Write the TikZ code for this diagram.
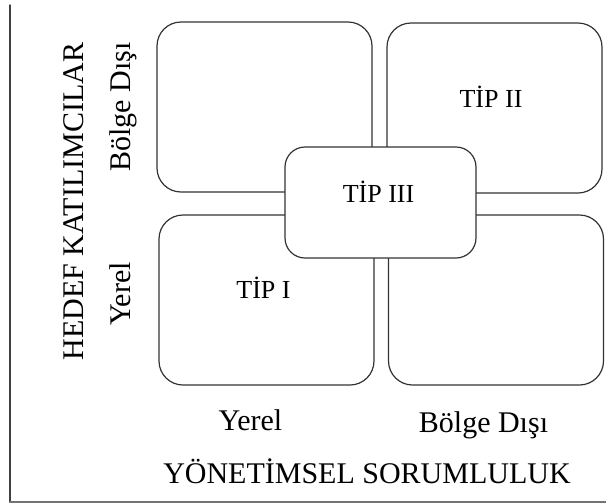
\documentclass[tikz,border=0pt]{standalone}
\usepackage{fontspec}
\setmainfont{Liberation Serif}
\usepackage{tikz}
\usetikzlibrary{calc}

\begin{document}
\begin{tikzpicture}[line cap=round,line join=round,x=1pt,y=-1pt,
  kutu/.style={draw=black!80,line width=1.2pt,rounded corners=24pt,minimum width=215pt,minimum height=170pt,inner sep=0pt},
  orta/.style={draw=black!80,line width=1.2pt,rounded corners=20pt,fill=white,minimum width=191pt,minimum height=111pt,inner sep=0pt},
  tip/.style={font=\fontsize{26}{30}\selectfont,anchor=base,inner sep=0pt},
  eksen/.style={font=\fontsize{30}{36}\selectfont,anchor=base,inner sep=0pt}]
\useasboundingbox (0,0) rectangle (606,504);
% axes
\coordinate (ust) at (10,5);
\coordinate (kose) at (10,502);
\coordinate (sag) at (606,502);
\draw [line width=1.5pt,black!75] (ust)-- (kose);
\draw [line width=1.5pt,black!55] (kose)-- (sag);
% four boxes
\node [kutu] (solust) at (264.5,107) {};
\node [kutu] (sagust) at (494.5,108) {};
\node [kutu] (solalt) at (266.5,300) {};
\node [kutu] (sagalt) at (496,300) {};
\node [orta] (merkez) at (380.5,202.5) {};
% box labels
\node [tip] (tip2) at (491,107) {TİP II};
\node [tip] (tip3) at (378.5,202) {TİP III};
\node [tip] (tip1) at (263.5,298) {TİP I};
% axis labels
\node [eksen] (xyerel) at (250.5,430) {Yerel};
\node [eksen] (xdisi) at (483.5,432) {Bölge Dışı};
\node [eksen] (xbaslik) at (367,483) {YÖNETİMSEL SORUMLULUK};
\node [eksen,rotate=90] (ybaslik) at (83,201.5) {HEDEF KATILIMCILAR};
\node [eksen,rotate=90] (ydisi) at (130,107) {Bölge Dışı};
\node [eksen,rotate=90] (yyerel) at (130,294) {Yerel};
\end{tikzpicture}
\end{document}
